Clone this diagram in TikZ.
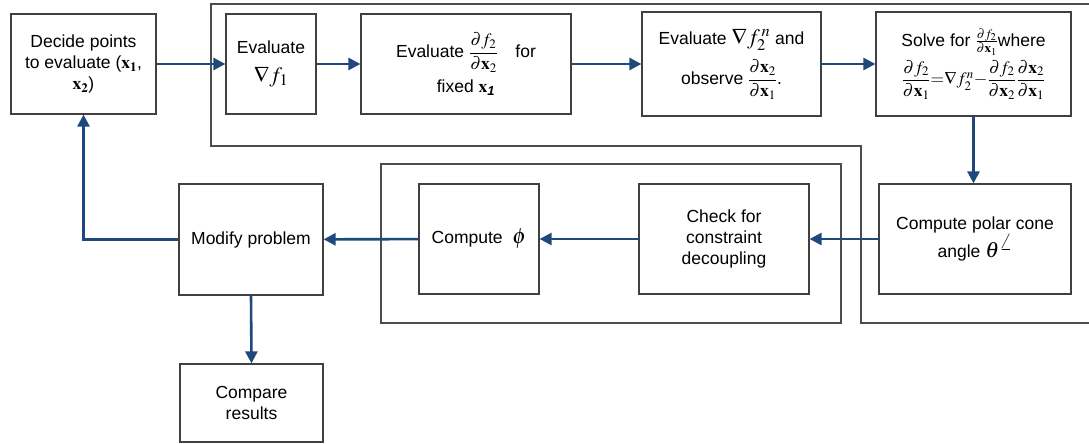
\documentclass[tikz,border=0pt]{standalone}
\usepackage{mathptmx}
\usepackage{amsmath}
\usepackage{fontspec}
\setmainfont{Liberation Sans}
\usepackage{tikz}
\usetikzlibrary{arrows.meta}

\definecolor{flowblue}{RGB}{31,73,125}
\newcommand{\bigmath}[1]{{\fontsize{22}{24}\selectfont$#1$}}

\tikzset{
  block/.style={draw=black!75, line width=1.2pt, align=center, inner sep=2pt,
    font=\fontsize{17.5}{21}\selectfont},
  flow/.style={draw=flowblue, line width=2.6pt, -{Triangle[length=12pt,width=12pt]}},
  frame/.style={draw=black!70, line width=1.2pt}
}

\begin{document}
\begin{tikzpicture}[x=1pt,y=-1pt]
\useasboundingbox (0,0) rectangle (1089,444);

% frames round the two loops
\draw[frame] (1089,4) -- (211,4) -- (211,146) -- (861,146) -- (861,323) -- (1089,323);
\draw[frame] (381,164) rectangle (841,323);

% top row
\node[block, minimum width=145pt, minimum height=100pt](decide) at (83.5,64)
  {Decide points\\to evaluate ($\mathbf{x}_{\mathbf{1}}$,\\$\mathbf{x}_{\mathbf{2}}$)};

\node[block, minimum width=90pt, minimum height=100pt](gradA) at (271,64)
  {Evaluate\\[8pt]\bigmath{\nabla f_1}};

\node[block, minimum width=210pt, minimum height=100pt](partB) at (466,64)
  {Evaluate $\dfrac{\partial f_2}{\partial \mathbf{x}_2}$\quad for\\[6pt]fixed $\mathbf{x}_{\textbf{\textit{1}}}$};

\node[block, minimum width=179pt, minimum height=104pt](gradC) at (731.5,64)
  {Evaluate \bigmath{\nabla f_2^{\,n}} and\\[8pt]observe $\dfrac{\partial \mathbf{x}_2}{\partial \mathbf{x}_1}$.};

\node[block, minimum width=195pt, minimum height=104pt](solve) at (973.5,64)
  {Solve for $\frac{\partial f_2}{\partial \mathbf{x}_1}$where\\[4pt]
   $\dfrac{\partial f_2}{\partial \mathbf{x}_1}{=}\nabla f_2^{n}{-}\dfrac{\partial f_2}{\partial \mathbf{x}_2}\dfrac{\partial \mathbf{x}_2}{\partial \mathbf{x}_1}$};

% bottom row
\node[block, minimum width=192pt, minimum height=110pt](polar) at (975,239)
  {Compute polar cone\\angle \bigmath{\theta^{\angle}}};

\node[block, minimum width=170pt, minimum height=110pt](check) at (724,239)
  {Check for\\constraint\\decoupling};

\node[block, minimum width=120pt, minimum height=110pt](phi) at (479,239)
  {Compute \ \bigmath{\phi}};

\node[block, minimum width=144pt, minimum height=111pt](modify) at (251,239.5)
  {Modify problem};

\node[block, minimum width=143pt, minimum height=78pt](compare) at (251.5,403)
  {Compare\\results};

\foreach \from/\to in {decide/gradA, gradA/partB, partB/gradC, gradC/solve,
                       polar/check, check/phi, phi/modify}
    \draw[flow] (\from) -- (\to);

\draw[flow] (solve.south) -- (solve.south |- polar.north);
\draw[flow] (modify.south) -- (compare.north);
\draw[flow] (modify.west) -| (decide.south);

\end{tikzpicture}
\end{document}
